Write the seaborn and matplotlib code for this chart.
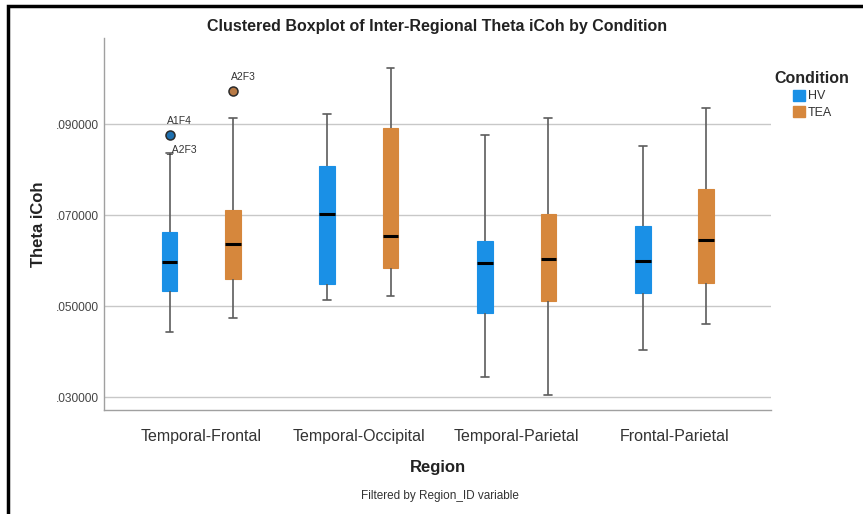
import matplotlib
matplotlib.use("Agg")
import matplotlib.pyplot as plt
from matplotlib.patches import Rectangle, Patch
from matplotlib.ticker import FixedLocator, FuncFormatter
import pandas as pd
import seaborn as sns

# Regions on the x axis and the two conditions
regions = ["Temporal-Frontal", "Temporal-Occipital", "Temporal-Parietal", "Frontal-Parietal"]
conditions = ["HV", "TEA"]

# Five-number summaries per region (whisker low, Q1, median, Q3, whisker high)
hv_low = [0.0443, 0.0513, 0.0344, 0.0404]
hv_q1 = [0.0533, 0.0548, 0.0486, 0.0529]
hv_med = [0.0597, 0.0704, 0.0595, 0.0600]
hv_q3 = [0.0663, 0.0808, 0.0644, 0.0676]
hv_high = [0.0838, 0.0923, 0.0877, 0.0852]

tea_low = [0.0475, 0.0523, 0.0304, 0.0461]
tea_q1 = [0.0560, 0.0584, 0.0512, 0.0552]
tea_med = [0.0638, 0.0655, 0.0603, 0.0646]
tea_q3 = [0.0712, 0.0892, 0.0704, 0.0759]
tea_high = [0.0915, 0.1024, 0.0915, 0.0936]

# Outlying cases
out_region = ["Temporal-Frontal", "Temporal-Frontal"]
out_cond = ["HV", "TEA"]
out_value = [0.0876, 0.0974]
out_ids = [["A1F4", "A2F3"], ["A2F3"]]

yticks = [0.03, 0.05, 0.07, 0.09]

colors = {"HV": "#1a90e6", "TEA": "#d6873c"}
outlier_colors = {"HV": "#1d6fae", "TEA": "#b87a45"}

rows = []
for cond, parts in (("HV", (hv_low, hv_q1, hv_med, hv_q3, hv_high)),
                    ("TEA", (tea_low, tea_q1, tea_med, tea_q3, tea_high))):
    for i, reg in enumerate(regions):
        for arr in parts:
            rows.append({"Region": reg, "Condition": cond, "iCoh": arr[i]})
df = pd.DataFrame(rows)
out_df = pd.DataFrame({"Region": out_region, "Condition": out_cond, "iCoh": out_value})

sns.set_theme(style="white")
plt.rcParams["font.family"] = ["Liberation Sans", "DejaVu Sans"]

fig = plt.figure(figsize=(8.63, 5.14), dpi=100)
ax = fig.add_axes([104 / 863, 1 - 410 / 514, (771 - 104) / 863, (410 - 38) / 514])

sns.boxplot(
    data=df, x="Region", y="iCoh", hue="Condition",
    order=regions, hue_order=conditions, palette=colors, saturation=1,
    whis=(0, 100), showfliers=False, width=0.8, gap=0.75,
    medianprops=dict(color="black", linewidth=2.2),
    whiskerprops=dict(color="#5c5c5c", linewidth=1.2),
    capprops=dict(color="#5c5c5c", linewidth=1.2),
    ax=ax,
)
for p in ax.patches:
    p.set_edgecolor(p.get_facecolor())
    p.set_linewidth(0.8)

sns.stripplot(
    data=out_df, x="Region", y="iCoh", hue="Condition",
    order=regions, hue_order=conditions, palette=outlier_colors,
    dodge=True, jitter=False, size=6.5, linewidth=1.1, edgecolor="#2a2a2a",
    legend=False, ax=ax, zorder=5,
)

# Case labels next to the outlying points
slot = {"HV": -0.2, "TEA": 0.2}
for reg, cond, val, ids in zip(out_region, out_cond, out_value, out_ids):
    x = regions.index(reg) + slot[cond]
    ax.annotate(ids[0], (x, val), xytext=(-1.5, 6.5), textcoords="offset points",
                fontsize=7.5, color="#333333", ha="left", va="bottom")
    if len(ids) > 1:
        ax.annotate("_" + ids[1], (x, val), xytext=(-2.5, -6.5), textcoords="offset points",
                    fontsize=7.5, color="#333333", ha="left", va="top")

ax.set_xlim(-0.615, 3.61)
ax.set_ylim(0.0272, 0.109)
ax.yaxis.set_major_locator(FixedLocator(yticks))
ax.yaxis.set_major_formatter(FuncFormatter(lambda v, _: f"{v:.6f}".lstrip("0")))
ax.grid(axis="y", color="#c8c8c8", linewidth=1.0)
ax.set_axisbelow(True)
for side in ("top", "right"):
    ax.spines[side].set_visible(False)
for side in ("left", "bottom"):
    ax.spines[side].set_color("#a0a0a0")
    ax.spines[side].set_linewidth(1.0)
ax.tick_params(axis="both", length=0)
ax.tick_params(axis="y", labelsize=8.6, labelcolor="#444444", pad=4)
ax.tick_params(axis="x", labelsize=11.5, labelcolor="#333333", pad=14)

ax.set_xlabel("Region", fontsize=12, fontweight="bold", color="#222222", labelpad=11)
ax.set_ylabel("Theta iCoh", fontsize=12, fontweight="bold", color="#222222", labelpad=7)

fig.text(437.5 / 863, 1 - 27 / 514, "Clustered Boxplot of Inter-Regional Theta iCoh by Condition",
         ha="center", va="center", fontsize=11.5, fontweight="bold", color="#222222")
fig.text(440 / 863, 1 - 496 / 514, "Filtered by Region_ID variable",
         ha="center", va="center", fontsize=8.5, color="#333333")

handles = [Patch(facecolor=colors[c], edgecolor=colors[c]) for c in conditions]
leg = ax.legend(handles, conditions, title="Condition", loc="upper left",
                bbox_to_anchor=(766 / 863, 1 - 62 / 514), bbox_transform=fig.transFigure,
                frameon=False, fontsize=9, handlelength=1.0, handleheight=1.0,
                handletextpad=0.2, labelspacing=0.3, borderpad=0.2)
leg.get_title().set_fontweight("bold")
leg.get_title().set_fontsize(11.5)
for t in leg.get_texts():
    t.set_color("#333333")

# Outer frame of the output window
fig.patches.append(Rectangle((8 / 863, -0.05), 1.0, 1 - 6 / 514 + 0.05,
                             transform=fig.transFigure, fill=False,
                             edgecolor="black", linewidth=2.5))

fig.savefig("out.png", dpi=100)
